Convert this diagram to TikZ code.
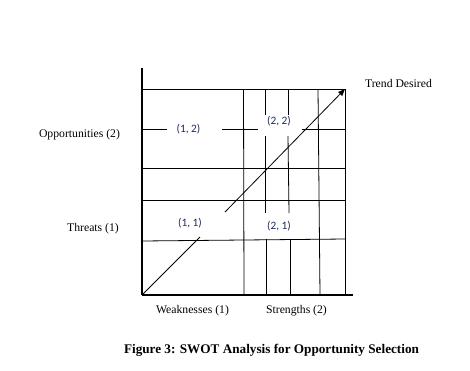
\documentclass[tikz,border=0pt]{standalone}
\usepackage{fontspec}
\setmainfont{Liberation Serif}
\newfontfamily\cellfont{Carlito}
\usetikzlibrary{arrows.meta}
\definecolor{cellblue}{RGB}{28,42,92}
\tikzset{
  grid line/.style={draw=black, line width=0.8pt},
  axis line/.style={draw=black, line width=1.5pt},
  axis text/.style={font=\fontsize{11.7}{13}\selectfont, inner sep=0pt},
  cell text/.style={font=\cellfont\fontsize{11.3}{13}\selectfont, text=cellblue, inner sep=0pt},
  caption text/.style={font=\bfseries\fontsize{13.2}{15}\selectfont, inner sep=0pt},
  trend arrow/.style={draw=black, line width=0.8pt},
}
\begin{document}
\begin{tikzpicture}[x=1pt,y=-1pt]
\useasboundingbox (0,0) rectangle (470,370);
% key coordinates
\coordinate (O) at (142,295);
\coordinate (Atop) at (142,68);
\coordinate (Aend) at (353,295);
\coordinate (TR) at (345,89);
% horizontal grid lines
\draw[grid line] (142,89) -- (345,89);
\draw[grid line] (142,129) -- (167,129);
\draw[grid line] (222,129) -- (258,129);
\draw[grid line] (302,129) -- (345,129);
\draw[grid line] (142,168) -- (345,168);
\draw[grid line] (142,200) -- (345,200);
\draw[grid line] (142,241) -- (345,239);
% vertical grid lines
\draw[grid line] (243.5,89) -- (244,295);
\draw[grid line] (265,89) -- (265,115);
\draw[grid line] (265,136) -- (265,213);
\draw[grid line] (266,239) -- (266,295);
\draw[grid line] (288,89) -- (288,115);
\draw[grid line] (288,136) -- (289,213);
\draw[grid line] (290,239) -- (290,295);
\draw[grid line] (318,89) -- (320,295);
\draw[grid line] (345,89) -- (345,295);
% axes
\draw[axis line] (O) -- (Atop);
\draw[axis line] (O) -- (Aend);
% diagonal trend arrow with a gap for the (1, 1) label
\coordinate (D1) at (200,237);
\coordinate (D2) at (225,212);
\draw[trend arrow] (O) -- (D1);
\draw[trend arrow, -{Triangle[length=7pt,width=5.5pt]}] (D2) -- (TR);
% cell labels
\node[cell text] (c12) at (188.5,129) {(1, 2)};
\node[cell text] (c22) at (279,121) {(2, 2)};
\node[cell text] (c11) at (190,223) {(1, 1)};
\node[cell text] (c21) at (279,226) {(2, 1)};
% axis labels
\node[axis text] (opp) at (79.5,135) {Opportunities (2)};
\node[axis text] (thr) at (93,229) {Threats (1)};
\node[axis text] (weak) at (192.5,311) {Weaknesses (1)};
\node[axis text] (str) at (296.5,311) {Strengths (2)};
\node[axis text] (trend) at (398.5,83) {Trend Desired};
\node[caption text] (cap) at (271.5,350) {Figure 3: SWOT Analysis for Opportunity Selection};
\end{tikzpicture}
\end{document}
